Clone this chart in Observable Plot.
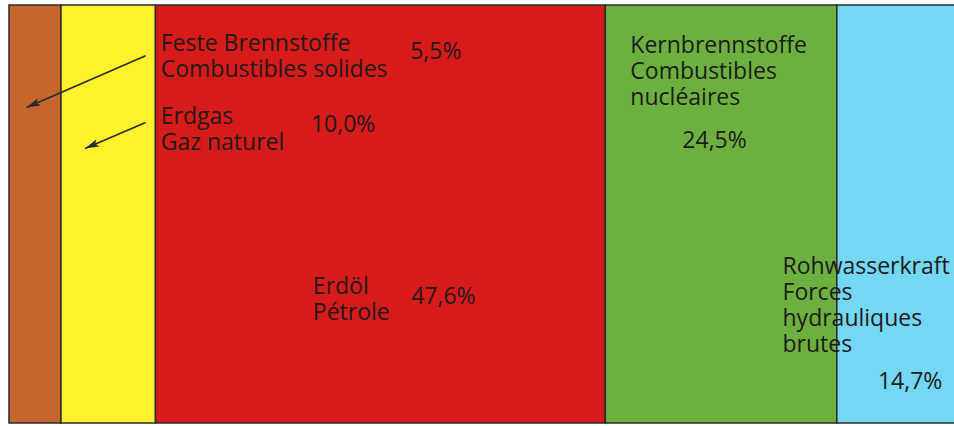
<!DOCTYPE html>
<html><head><meta charset="utf-8">
<script src="https://cdn.jsdelivr.net/npm/d3@7"></script>
<script src="https://cdn.jsdelivr.net/npm/@observablehq/plot@0.6"></script>
<style>
html,body{margin:0;padding:0;background:#fff;overflow:hidden}
#chart svg{display:block;overflow:hidden}
</style>
</head><body><div id="chart"></div>
<script>
// ---- data ----
const categoriesDe = ["Feste Brennstoffe", "Erdgas", "Erdöl", "Kernbrennstoffe", "Rohwasserkraft"];
const categoriesFr = ["Combustibles solides", "Gaz naturel", "Pétrole", "Combustibles\nnucléaires", "Forces\nhydrauliques\nbrutes"];
const shares = [5.5, 10.0, 47.6, 24.5, 14.7];
const shareLabels = ["5,5%", "10,0%", "47,6%", "24,5%", "14,7%"];
const colors = ["#c6662e", "#fff22c", "#d71b1b", "#6cb140", "#74d7f3"];

// ---- layout (annotation placement, x in % units, y in % of bar height from top) ----
const nameX = [16.0, 16.0, 32.1, 65.7, 81.8];
const nameY = [6.4, 23.9, 64.6, 6.8, 59.7];
const pctX = [42.4, 31.9, 42.5, 71.2, 91.9];
const pctY = [8.8, 26.4, 67.5, 30.1, 87.8];
const arrowFromX = [14.4, 14.4], arrowFromY = [12.0, 28.0];
const arrowToX = [1.8, 8.0], arrowToY = [24.4, 34.2];

const W = 954, H = 426, mL = 9, mT = 5, mB = 3;
const kx = (W - mL) / 100, ky = (H - mT - mB) / 100;

const ends = d3.cumsum(shares);
const segments = shares.map((v, i) => ({
  name: categoriesDe[i], x1: ends[i] - v, x2: ends[i], color: colors[i]
}));
const names = categoriesDe.map((d, i) => ({text: d + "\n" + categoriesFr[i], x: nameX[i], y: nameY[i]}));
const pcts = shareLabels.map((d, i) => ({text: d, x: pctX[i], y: pctY[i]}));
const arrows = arrowFromX.map((d, i) => {
  const dx = (arrowToX[i] - d) * kx, dy = (arrowToY[i] - arrowFromY[i]) * ky;
  return {x1: d, y1: arrowFromY[i], x2: arrowToX[i], y2: arrowToY[i],
          angle: Math.atan2(dx, -dy) * 180 / Math.PI};
});
// narrow filled arrowhead, tip at origin, pointing up
const arrowHead = {draw(ctx) { ctx.moveTo(0, 0); ctx.lineTo(4, 14); ctx.lineTo(0, 11); ctx.lineTo(-4, 14); ctx.closePath(); }};

const textColor = "#1e1a1a";
const chart = Plot.plot({
  width: W,
  height: H,
  marginLeft: mL,
  marginRight: 0,
  marginTop: mT,
  marginBottom: mB,
  x: {domain: [0, 100], axis: null},
  y: {domain: [0, 100], range: [mT, H - mB], axis: null},
  style: {fontFamily: "'Open Sans', sans-serif", background: "#fff"},
  marks: [
    Plot.rect(segments, {x1: "x1", x2: "x2", y1: 0, y2: 100, fill: "color", stroke: "#2b2b2b", strokeWidth: 1.5}),
    Plot.text(names, {x: "x", y: "y", text: "text", textAnchor: "start", lineAnchor: "top", lineHeight: 1.14, fontSize: 23, fill: textColor}),
    Plot.text(pcts, {x: "x", y: "y", text: "text", textAnchor: "start", lineAnchor: "top", fontSize: 23, fill: textColor}),
    Plot.link(arrows, {x1: "x1", y1: "y1", x2: "x2", y2: "y2", stroke: "#2b2b2b", strokeWidth: 1.6}),
    Plot.dot(arrows, {x: "x2", y: "y2", symbol: arrowHead, rotate: "angle", fill: "#2b2b2b", stroke: "none"})
  ]
});
document.getElementById("chart").append(chart);
</script>
</body></html>
